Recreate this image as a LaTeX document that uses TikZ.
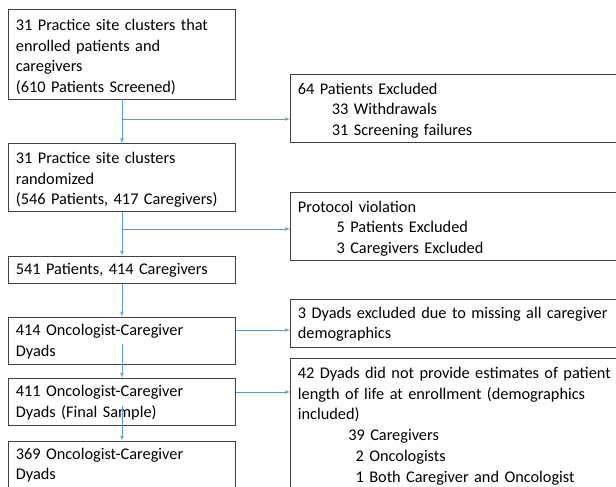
\documentclass[tikz,border=0pt]{standalone}
\usepackage{fontspec}
\setmainfont{Carlito}
\usetikzlibrary{arrows}
\definecolor{flowblue}{RGB}{91,155,213}
\tikzstyle{block} = [draw=black!75, line width=0.8pt, rectangle, anchor=north west, align=left, inner xsep=7.5pt, inner ysep=7pt, font=\fontsize{16.3}{20.7}\selectfont]
\tikzstyle{leftblock} = [block, text width=212pt]
\tikzstyle{rightblock} = [block, text width=335pt]
\tikzstyle{flow} = [draw=flowblue, line width=0.8pt, ->]

\begin{document}
\begin{tikzpicture}[auto, >=latex', x=1pt, y=-1pt]
	\useasboundingbox (0,0) rectangle (616,487);
	\clip (0,0) rectangle (616,487);

	% main column
	\node [leftblock, text height=14pt, text depth=61.5pt] (screened) at (8,9) {31 Practice site clusters that\\enrolled patients and\\caregivers\\(610 Patients Screened)};
	\node [leftblock, text height=12.8pt, text depth=40.9pt] (randomized) at (8,143.3) {31 Practice site clusters\\randomized\\(546 Patients, 417 Caregivers)};
	\node [leftblock, text height=11.6pt, text depth=1.4pt] (enrolled) at (8,255.7) {541 Patients, 414 Caregivers};
	\node [leftblock, text height=11.6pt, text depth=22pt] (dyads) at (8,316.7) {414 Oncologist-Caregiver\\Dyads};
	\node [leftblock, text height=11.3pt, text depth=22.3pt] (final) at (8,377.7) {411 Oncologist-Caregiver\\Dyads (Final Sample)};
	\node [leftblock, text height=11pt, text depth=34pt] (sample) at (8,440.7) {369 Oncologist-Caregiver\\Dyads};

	% exclusions
	\node [rightblock, text height=12.7pt, text depth=41.3pt] (excluded) at (290,74) {64 Patients Excluded\\\hspace*{34pt}33 Withdrawals\\\hspace*{34pt}31 Screening failures};
	\node [rightblock, text height=13pt, text depth=41.3pt] (protocol) at (290,191.7) {Protocol violation\\\hspace*{38.7pt}5 Patients Excluded\\\hspace*{38.7pt}3 Caregivers Excluded};
	\node [rightblock, text height=11.4pt, text depth=22pt] (missing) at (290,299.3) {3 Dyads excluded due to missing all caregiver\\demographics};
	\node [rightblock, text height=13.6pt, text depth=114.9pt] (noest) at (290,357.5) {42 Dyads did not provide estimates of patient\\length of life at enrollment (demographics\\included)\\\hspace*{50.4pt}39 Caregivers\\\hspace*{57.7pt}2 Oncologists\\\hspace*{57.7pt}1 Both Caregiver and Oncologist};

	\coordinate (splitA) at (screened.south |- 0,119);
	\coordinate (splitB) at (randomized.south |- 0,229);
	\coordinate (startA) at (dyads.south |- 0,344);
	\coordinate (startB) at (final.south |- 0,406);

	\draw [flow] (screened.south) -- (randomized.north);
	\draw [flow] (splitA) -- (splitA -| excluded.west);
	\draw [flow] (randomized.south) -- (enrolled.north);
	\draw [flow] (splitB) -- (splitB -| protocol.west);
	\draw [flow] (enrolled.south) -- (dyads.north);
	\draw [flow] (dyads.east |- 0,330) -- (missing.west |- 0,330);
	\draw [flow] (startA) -- (final.north);
	\draw [flow] (final.east |- 0,392) -- (noest.west |- 0,392);
	\draw [flow] (startB) -- (sample.north);
\end{tikzpicture}
\end{document}
